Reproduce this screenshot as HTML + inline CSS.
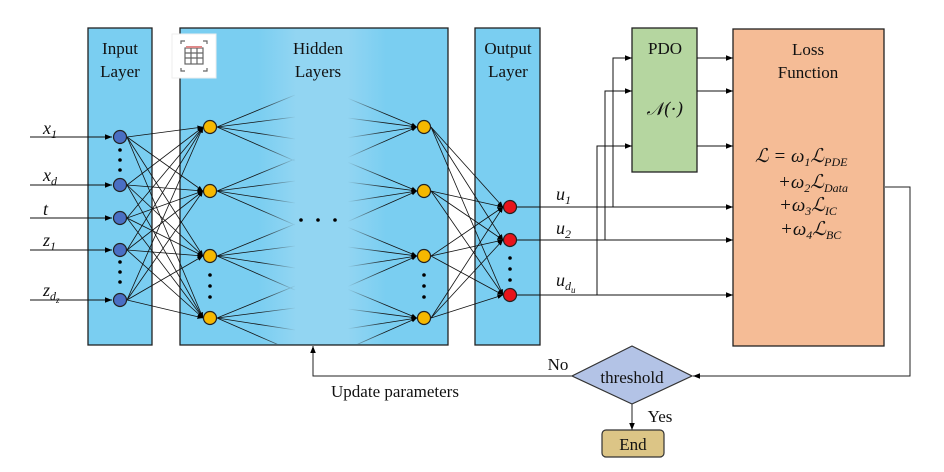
<!DOCTYPE html>
<html><head><meta charset="utf-8"><style>
body{margin:0;background:#fff;width:944px;height:472px;overflow:hidden}
svg{display:block}
text{font-family:"Liberation Serif",serif;fill:#111}
.m{font-family:"DejaVu Serif","Liberation Serif",serif;font-style:italic}
</style></head><body>
<svg id="s" width="944" height="472" viewBox="0 0 944 472" xmlns="http://www.w3.org/2000/svg">
<defs>
<marker id="a" viewBox="0 0 10 10" refX="10" refY="5" markerWidth="7" markerHeight="7" orient="auto-start-reverse"><path d="M0,1 L10,5 L0,9 z" fill="#000"/></marker>
<linearGradient id="fade" x1="0" x2="1" y1="0" y2="0">
<stop offset="0" stop-color="#92d5f2" stop-opacity="0"/>
<stop offset="0.3" stop-color="#92d5f2" stop-opacity="1"/>
<stop offset="0.7" stop-color="#92d5f2" stop-opacity="1"/>
<stop offset="1" stop-color="#92d5f2" stop-opacity="0"/>
</linearGradient>
<clipPath id="hc"><rect x="181" y="29" width="266" height="315"/></clipPath>
</defs>
<rect x="88" y="28" width="64" height="317" fill="#7acef1" stroke="#222" stroke-width="1.3"/>
<rect x="180" y="28" width="268" height="317" fill="#7acef1" stroke="#222" stroke-width="1.3"/>
<rect x="475" y="28" width="65" height="317" fill="#7acef1" stroke="#222" stroke-width="1.3"/>
<rect x="632" y="28" width="65" height="144" fill="#b5d6a0" stroke="#222" stroke-width="1.3"/>
<rect x="733" y="29" width="151" height="317" fill="#f5bc96" stroke="#222" stroke-width="1.3"/>
<g id="net" stroke="#111" stroke-width="0.8" fill="none"></g>
<g id="hnet" stroke="#111" stroke-width="0.8" fill="none" clip-path="url(#hc)"></g>
<rect x="258" y="29" width="128" height="315" fill="url(#fade)"/>
<g id="nodes"></g>
<text x="120" y="54" font-size="17" text-anchor="middle">Input</text>
<text x="120" y="77" font-size="17" text-anchor="middle">Layer</text>
<text x="318" y="54" font-size="17" text-anchor="middle">Hidden</text>
<text x="318" y="77" font-size="17" text-anchor="middle">Layers</text>
<text x="508" y="54" font-size="17" text-anchor="middle">Output</text>
<text x="508" y="77" font-size="17" text-anchor="middle">Layer</text>
<text x="665" y="54" font-size="17" text-anchor="middle">PDO</text>
<text x="665" y="115" font-size="18" text-anchor="middle" class="m">𝒩(·)</text>
<text x="808" y="55" font-size="17" text-anchor="middle">Loss</text>
<text x="808" y="78" font-size="17" text-anchor="middle">Function</text>
<g class="m" font-size="19">
<text x="755" y="162">ℒ = ω<tspan font-size="12" dy="4">1</tspan><tspan dy="-4">ℒ</tspan><tspan font-size="12" dy="4">PDE</tspan></text>
<text x="778" y="188">+ω<tspan font-size="12" dy="4">2</tspan><tspan dy="-4">ℒ</tspan><tspan font-size="12" dy="4">Data</tspan></text>
<text x="779" y="211">+ω<tspan font-size="12" dy="4">3</tspan><tspan dy="-4">ℒ</tspan><tspan font-size="12" dy="4">IC</tspan></text>
<text x="780" y="235">+ω<tspan font-size="12" dy="4">4</tspan><tspan dy="-4">ℒ</tspan><tspan font-size="12" dy="4">BC</tspan></text>
</g>
<g class="m" font-size="18">
<text x="43" y="134">x<tspan font-size="12" dy="4">1</tspan></text>
<text x="43" y="181">x<tspan font-size="12" dy="4">d</tspan></text>
<text x="43" y="215">t</text>
<text x="43" y="246">z<tspan font-size="12" dy="4">1</tspan></text>
<text x="43" y="296">z<tspan font-size="12" dy="4">d</tspan><tspan font-size="9" dy="3">z</tspan></text>
<text x="556" y="200">u<tspan font-size="12" dy="4">1</tspan></text>
<text x="556" y="234">u<tspan font-size="12" dy="4">2</tspan></text>
<text x="556" y="286">u<tspan font-size="12" dy="4">d</tspan><tspan font-size="9" dy="3">u</tspan></text>
</g>
<g stroke="#222" stroke-width="1" fill="none">
<polyline points="885,187 910,187 910,376 693,376" marker-end="url(#a)"/>
<polyline points="572,376 313,376 313,346" marker-end="url(#a)"/>
<line x1="632" y1="404" x2="632" y2="430" marker-end="url(#a)"/>
</g>
<polygon points="632,346 692,376 632,404 572,376" fill="#b3c3e6" stroke="#333" stroke-width="1.2"/>
<text x="632" y="383" font-size="17" text-anchor="middle">threshold</text>
<text x="558" y="370" font-size="17" text-anchor="middle">No</text>
<text x="395" y="397" font-size="17" text-anchor="middle">Update parameters</text>
<text x="660" y="422" font-size="17" text-anchor="middle">Yes</text>
<rect x="602" y="430" width="62" height="27" rx="4" fill="#dcc586" stroke="#333" stroke-width="1.2"/>
<text x="633" y="450" font-size="17" text-anchor="middle">End</text>
<rect x="172" y="34" width="44" height="44" fill="#fff" stroke="#eee"/>
<g stroke="#666" stroke-width="1.2" fill="none">
<path d="M181,44 v-3 h4 M203,41 h4 v3 M181,68 v3 h4 M203,71 h4 v-3"/>
<rect x="185" y="48" width="18" height="16"/>
<path d="M185,53 h18 M185,58 h18 M191,48 v16 M197,48 v16"/>
</g>
<line x1="186" y1="47" x2="202" y2="47" stroke="#d88" stroke-width="2"/>
</svg>
<script>
var ns="http://www.w3.org/2000/svg",net=document.getElementById('net'),hnet=document.getElementById('hnet'),nodes=document.getElementById('nodes');
function L(x1,y1,x2,y2,arr,op,g){var l=document.createElementNS(ns,'line');l.setAttribute('x1',x1);l.setAttribute('y1',y1);l.setAttribute('x2',x2);l.setAttribute('y2',y2);if(arr)l.setAttribute('marker-end','url(#a)');if(op)l.setAttribute('stroke-width',op);(g||net).appendChild(l);}
function C(x,y,f){var c=document.createElementNS(ns,'circle');c.setAttribute('cx',x);c.setAttribute('cy',y);c.setAttribute('r',6.5);c.setAttribute('fill',f);c.setAttribute('stroke','#222');c.setAttribute('stroke-width','1.2');nodes.appendChild(c);}
function D(x,y){var c=document.createElementNS(ns,'circle');c.setAttribute('cx',x);c.setAttribute('cy',y);c.setAttribute('r',1.8);c.setAttribute('fill','#000');nodes.appendChild(c);}
var inY=[137,185,218,250,300],hY=[127,191,256,318],oY=[207,240,295];
inY.forEach(function(y){L(30,y,112,y,1,1);});
inY.forEach(function(a){hY.forEach(function(b){L(127,a,203,b,1);});});
hY.forEach(function(a){[-1,0,1,2].forEach(function(k){L(217,a,295,a+k*22-10,0,0,hnet);});});
hY.forEach(function(b){[-1,0,1,2].forEach(function(k){L(340,b+k*22-10,417,b,1,0,hnet);});});
hY.forEach(function(a){oY.forEach(function(b){L(431,a,503,b,1);});});
L(516,207,733,207,1,1);L(516,240,733,240,1,1);L(516,295,733,295,1,1);
[[613,207,58],[605,240,91],[597,295,146]].forEach(function(p){var pl=document.createElementNS(ns,'polyline');pl.setAttribute('points',p[0]+','+p[1]+' '+p[0]+','+p[2]+' 632,'+p[2]);pl.setAttribute('marker-end','url(#a)');pl.setAttribute('stroke-width',1);net.appendChild(pl);L(697,p[2],733,p[2],1,1);});
inY.forEach(function(y){C(120,y,'#4a6fc4');});
hY.forEach(function(y){C(210,y,'#f6b800');C(424,y,'#f6b800');});
oY.forEach(function(y){C(510,y,'#e8141b');});
[150,160,170,262,272,282].forEach(function(y){D(120,y);});
[275,286,297].forEach(function(y){D(210,y);D(424,y);});
[258,269,280].forEach(function(y){D(510,y);});
[301,318,335].forEach(function(x){D(x,220);});
</script>
</body></html>
